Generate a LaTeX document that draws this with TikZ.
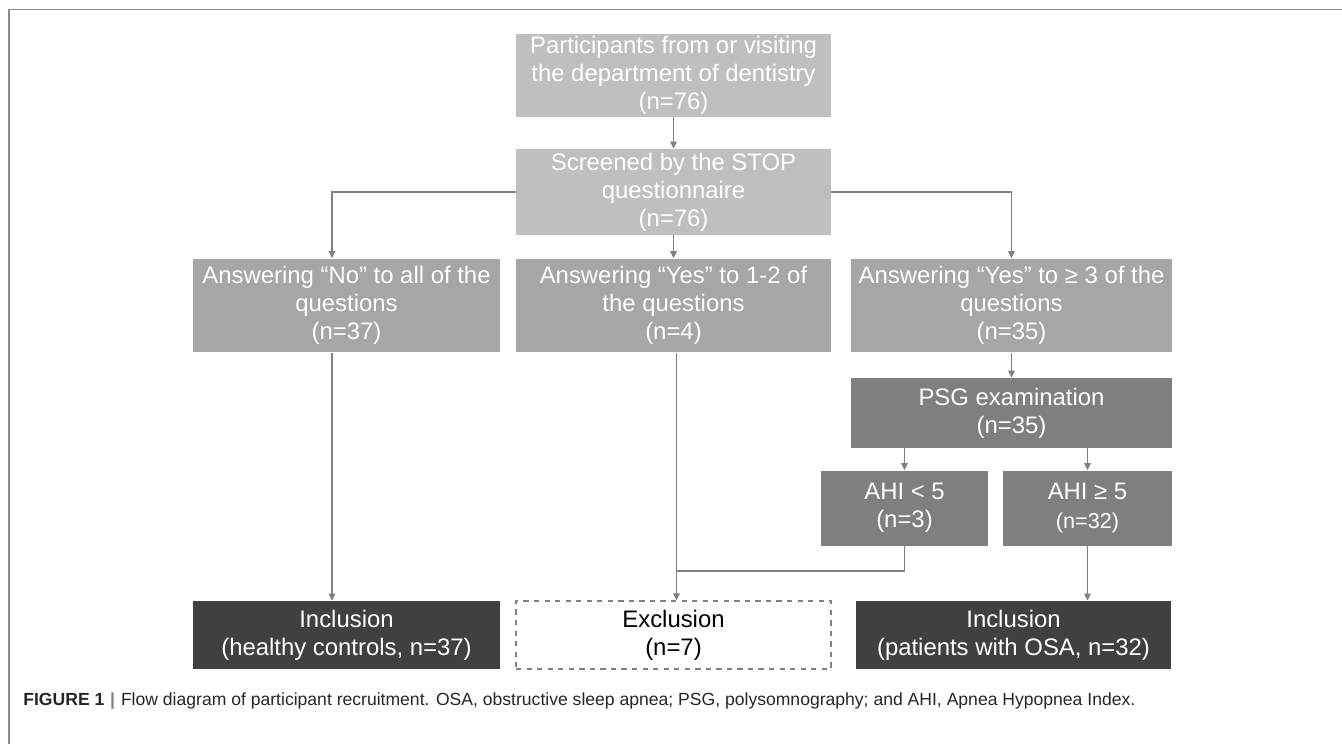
\documentclass[tikz,border=0pt]{standalone}
\usepackage{fontspec}
\setmainfont{Liberation Sans}
\usetikzlibrary{arrows.meta}

\definecolor{boxA}{HTML}{BFBFBF}
\definecolor{boxB}{HTML}{A6A6A6}
\definecolor{boxC}{HTML}{7F7F7F}
\definecolor{boxD}{HTML}{404040}
\definecolor{linegray}{HTML}{808080}

\tikzset{
  box/.style={draw=none, text=white, align=center, inner sep=0pt,
    font=\fontsize{13.6}{16}\selectfont},
  arr/.style={draw=linegray, line width=1.1pt, -{Triangle[length=0.14cm,width=0.13cm]}},
  line/.style={draw=linegray, line width=1.1pt}
}

\begin{document}
\begin{tikzpicture}[x=0.02cm,y=-0.02cm]
				\useasboundingbox (0,0) rectangle (1342,744);
				%draw frame
				\draw[color=gray!90, line width=0.8pt] (9,744) -- (9,9.5) -- (1342,9.5);
				%draw top boxes
				\node[box, fill=boxA, minimum width=6.3cm, minimum height=1.66cm] (part) at (673.5,75.5)
					{Participants from or visiting\\the department of dentistry\\(n=76)};
				\node[box, fill=boxA, minimum width=6.3cm, minimum height=1.72cm] (stop) at (673.5,192)
					{Screened by the STOP\\questionnaire\\(n=76)};
				%draw answer boxes
				\node[box, fill=boxB, minimum width=6.14cm, minimum height=1.88cm] (none) at (346.5,305.5)
					{Answering “No” to all of the\\questions\\(n=37)};
				\node[box, fill=boxB, minimum width=6.3cm, minimum height=1.88cm] (few) at (673.5,305.5)
					{Answering “Yes” to 1-2 of\\the questions\\(n=4)};
				\node[box, fill=boxB, minimum width=6.42cm, minimum height=1.88cm] (many) at (1011.5,305.5)
					{Answering “Yes” to ≥ 3 of the\\questions\\(n=35)};
				%draw psg boxes
				\node[box, fill=boxC, minimum width=6.42cm, minimum height=1.4cm] (psg) at (1011.5,413)
					{PSG examination\\(n=35)};
				\node[box, fill=boxC, minimum width=3.34cm, minimum height=1.5cm] (ahilow) at (904.5,508)
					{AHI < 5\\(n=3)};
				\node[box, fill=boxC, minimum width=3.38cm, minimum height=1.5cm] (ahihigh) at (1087.5,508)
					{AHI ≥ 5\\{\fontsize{12.3}{15}\selectfont (n=32)}};
				%draw result boxes
				\node[box, fill=boxD, minimum width=6.14cm, minimum height=1.36cm] (inleft) at (346.5,635)
					{Inclusion\\(healthy controls, n=37)};
				\node[box, draw=linegray, dashed, line width=0.8pt, text=black, fill=white,
					minimum width=6.3cm, minimum height=1.36cm] (excl) at (673.5,635)
					{Exclusion\\(n=7)};
				\node[box, fill=boxD, minimum width=6.3cm, minimum height=1.36cm] (inright) at (1013.5,635)
					{Inclusion\\(patients with OSA, n=32)};
				%draw arrows
				\draw[arr] (part) -- (stop);
				\draw[arr] (stop) -- (few);
				\draw[arr] (stop.west) -| ([xshift=-0.29cm]none.north);
				\draw[arr] (stop.east) -| (many.north);
				\draw[arr] (many) -- (psg);
				\draw[arr] (ahilow.north |- psg.south) -- (ahilow.north);
				\draw[arr] (ahihigh.north |- psg.south) -- (ahihigh.north);
				\draw[arr] ([xshift=-0.29cm]none.south) -- ([xshift=-0.29cm]inleft.north);
				\draw[arr] ([xshift=0.06cm]few.south) -- ([xshift=0.06cm]excl.north);
				\coordinate (join) at (676.5,571);
				\draw[line] (ahilow.south) |- (join);
				\draw[arr] (ahihigh.south) -- (ahihigh.south |- inright.north);
				%draw caption
				\node[anchor=west, inner sep=0pt, text=black!85, font=\fontsize{10}{12}\selectfont] (caption) at (23,701)
					{\textbf{FIGURE 1}\,\,{\color{gray}\textbf{|}}\,\,Flow diagram of participant recruitment. OSA, obstructive sleep apnea; PSG, polysomnography; and AHI, Apnea Hypopnea Index.};
\end{tikzpicture}
\end{document}
